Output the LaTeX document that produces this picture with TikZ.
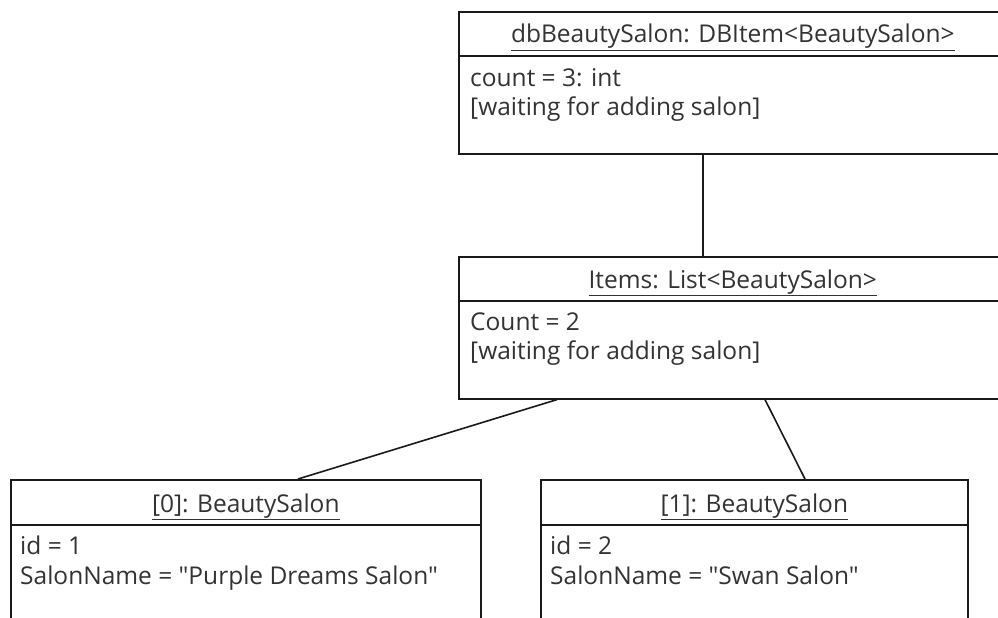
\documentclass[tikz,border=0pt]{standalone}
\usepackage{fontspec}
\setmainfont{Open Sans}[Ligatures=TeXOff]
\definecolor{ink}{HTML}{333333}
\definecolor{edge}{HTML}{1A1A1A}
\tikzset{
  objbox/.style={draw=edge, line width=1.6pt, fill=white, rectangle, anchor=north west, inner sep=0pt},
  objtitle/.style={anchor=base, inner sep=0pt, text=ink, font=\fontsize{24.5}{29}\selectfont},
  objline/.style={anchor=base west, inner sep=0pt, text=ink, font=\fontsize{24.5}{29}\selectfont},
  divider/.style={draw=edge, line width=1.6pt},
  link/.style={draw=edge, line width=1.6pt},
}
\newcommand{\objname}[1]{\underline{#1}}
\begin{document}
\begin{tikzpicture}[x=1pt, y=-1pt]
  \useasboundingbox (0,0) rectangle (998,618);
  \clip (0,0) rectangle (998,618);
  \fill[white] (0,0) rectangle (998,618);

  % database wrapper object
  \node[objbox, minimum width=548pt, minimum height=142pt] (db) at (458,11) {};
  \draw[divider] ([yshift=-45pt]db.north west) -- ([yshift=-45pt]db.north east);
  \node[objtitle] (dbt) at ([yshift=-32pt]db.north) {\objname{dbBeautySalon: DBItem<BeautySalon>}};
  \node[objline] (dba) at ([xshift=12pt,yshift=-75pt]db.north west) {count = 3: int};
  \node[objline] (dbb) at ([xshift=12pt,yshift=-104pt]db.north west) {[waiting for adding salon]};

  % item list
  \node[objbox, minimum width=548pt, minimum height=142pt] (items) at (458,256) {};
  \draw[divider] ([yshift=-45pt]items.north west) -- ([yshift=-45pt]items.north east);
  \node[objtitle] (itemst) at ([yshift=-32pt]items.north) {\objname{Items: List<BeautySalon>}};
  \node[objline] (itemsa) at ([xshift=12pt,yshift=-74pt]items.north west) {Count = 2};
  \node[objline] (itemsb) at ([xshift=12pt,yshift=-103pt]items.north west) {[waiting for adding salon]};

  % salon objects
  \node[objbox, minimum width=470pt, minimum height=180pt] (s0) at (10,479) {};
  \draw[divider] ([yshift=-46pt]s0.north west) -- ([yshift=-46pt]s0.north east);
  \node[objtitle] (s0t) at ([yshift=-33pt]s0.north) {\objname{[0]: BeautySalon}};
  \node[objline] (s0a) at ([xshift=10pt,yshift=-75pt]s0.north west) {id = 1};
  \node[objline] (s0b) at ([xshift=10pt,yshift=-105pt]s0.north west) {SalonName = "Purple Dreams Salon"};

  \node[objbox, minimum width=427pt, minimum height=180pt] (s1) at (540,479) {};
  \draw[divider] ([yshift=-46pt]s1.north west) -- ([yshift=-46pt]s1.north east);
  \node[objtitle] (s1t) at ([yshift=-33pt]s1.north) {\objname{[1]: BeautySalon}};
  \node[objline] (s1a) at ([xshift=10pt,yshift=-75pt]s1.north west) {id = 2};
  \node[objline] (s1b) at ([xshift=10pt,yshift=-105pt]s1.north west) {SalonName = "Swan Salon"};

  % links
  \coordinate (dbfoot) at ([xshift=245pt]db.south west);
  \coordinate (itemshead) at ([xshift=245pt]items.north west);
  \coordinate (itemsl) at ([xshift=99pt]items.south west);
  \coordinate (itemsr) at ([xshift=307pt]items.south west);
  \coordinate (s0head) at ([xshift=288pt]s0.north west);
  \coordinate (s1head) at ([xshift=265pt]s1.north west);
  \draw[link] (dbfoot) -- (itemshead);
  \draw[link] (itemsl) -- (s0head);
  \draw[link] (itemsr) -- (s1head);
\end{tikzpicture}
\end{document}
